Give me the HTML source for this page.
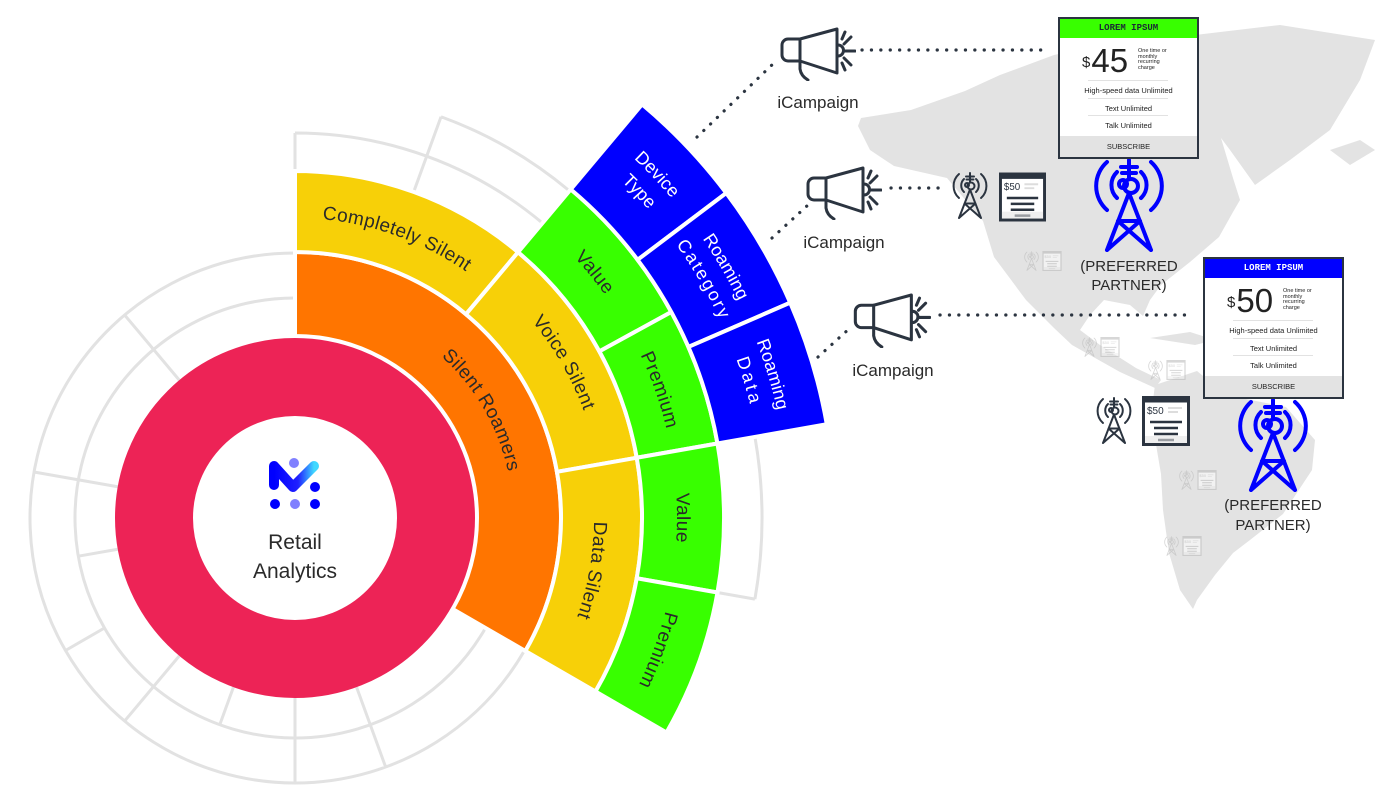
<!DOCTYPE html>
<html><head><meta charset="utf-8">
<style>
html,body{margin:0;padding:0;background:#fff;}
#wrap{position:relative;width:1400px;height:812px;overflow:hidden;font-family:"Liberation Sans",sans-serif;}
svg{position:absolute;left:0;top:0;}
.card{position:absolute;box-sizing:border-box;border:2px solid #2b3440;background:#fff;width:141px;height:142px;}
.card .hd{height:19px;line-height:19px;text-align:center;font-family:"Liberation Mono",monospace;font-weight:bold;font-size:9px;color:#1a2a33;}
.card .pr{position:absolute;left:22px;top:25px;font-size:33px;line-height:33px;color:#222;}
.card .pr sup{font-size:15px;vertical-align:top;position:relative;top:2px;margin-right:1px;}
.card .sm{position:absolute;left:78px;top:30px;font-size:5.5px;line-height:5.5px;color:#222;width:34px;}
.card .row{position:absolute;left:0;width:137px;text-align:center;font-size:7.5px;color:#222;}
.card .ln{position:absolute;left:28px;width:80px;height:1px;background:#e2e2e2;}
.card .ft{position:absolute;left:0;bottom:0;width:137px;height:21px;line-height:21px;background:#e3e3e3;text-align:center;font-size:7.5px;color:#222;}
</style></head><body><div id="wrap">
<svg width="1400" height="812" viewBox="0 0 1400 812">
<defs>
<path id="lSR"/><path id="lCS"/><path id="lVS"/><path id="lDS"/>
<path id="lV1"/><path id="lP1"/><path id="lV2"/><path id="lP2"/>
<path id="lB1o"/><path id="lB1i"/><path id="lB2o"/><path id="lB2i"/><path id="lB3o"/><path id="lB3i"/>
<symbol id="tower" viewBox="0 0 72 94">
<g fill="none" stroke="currentColor" stroke-width="4" stroke-linecap="round" stroke-linejoin="round">
<line x1="36" y1="2" x2="36" y2="20"/><line x1="28" y1="9" x2="44" y2="9"/><line x1="29" y1="15" x2="43" y2="15"/>
<circle cx="38" cy="28" r="7"/><circle cx="30" cy="26" r="4"/>
<path d="M24,14 A18,18 0 0 0 24,40"/><path d="M48,14 A18,18 0 0 1 48,40"/>
<path d="M14,4 A32,32 0 0 0 14,52"/><path d="M58,4 A32,32 0 0 1 58,52"/>
<path d="M36,35 L14,92 M36,35 L58,92 M25,63 H47 M25,63 L58,92 M47,63 L14,92"/>
</g></symbol>
<symbol id="mega" viewBox="0 0 76 54">
<g fill="none" stroke="currentColor" stroke-width="3" stroke-linecap="round" stroke-linejoin="round">
<path d="M20,12 H8 a6,6 0 0 0 -6,6 v10 a6,6 0 0 0 6,6 H20"/>
<path d="M20,12 L57,2 V46 L20,34 Z"/>
<path d="M20,34 V42 Q21,49 28,53"/>
<path d="M58,18 a5,5 0 0 1 0,11"/>
<path d="M65,24 H75 M64,17 L71,10 M64,31 L71,38 M62,12 L65,5 M62,36 L65,43"/>
</g></symbol>
<symbol id="mini" viewBox="0 0 48 50">
<rect x="1.5" y="1.5" width="45" height="47" fill="#fff" stroke="currentColor" stroke-width="3"/>
<rect x="1.5" y="1.5" width="45" height="5" fill="currentColor"/>
<text x="5" y="18" font-size="10" fill="currentColor" font-family="Liberation Sans,sans-serif">$50</text>
<path d="M26,12 H40 M26,16 H36" stroke="#ddd" stroke-width="2"/>
<path d="M8,26 H40 M12,32 H36 M12,38 H36 M16,44 H32" stroke="currentColor" stroke-width="2.5"/>
<rect x="3" y="40" width="42" height="7" fill="#e5e5e5" opacity=".6"/>
</symbol>
</defs>

<!-- map -->
<g fill="#e3e3e3">
<path d="M858,126 L861,118 911,110 965,91 1000,75 1054,55 1126,40 1197,47 1215,118 1233,178 1240,200 1233,212 1219,237 1190,262 1161,285 1150,300 1143,316 1130,305 1104,300 1090,315 1080,330 1100,345 1136,368 1161,380 1155,388 1120,372 1072,345 1054,328 1026,300 994,257 983,221 947,178 894,166 870,150 Z"/>
<path d="M1195,35 L1280,25 1375,40 1360,80 1330,130 1290,160 1255,185 1230,150 1200,110 1190,70 Z"/>
<path d="M1155,385 L1197,371 1226,395 1286,407 1315,440 1312,470 1283,514 1250,540 1233,553 1215,575 1197,600 1193,609 1180,590 1169,553 1163,510 1161,474 1151,415 Z"/>
<path d="M1150,338 L1190,332 1215,340 1195,345 Z"/>
<path d="M1330,150 L1360,140 1375,150 1350,165 Z"/>
</g>

<g fill="none" stroke="#e2e2e2" stroke-width="3" id="grays"></g>
<g id="segs" stroke="#fff" stroke-width="4"></g>
<circle cx="295" cy="518" r="141" fill="none" stroke="#ED2356" stroke-width="78"/>

<defs><linearGradient id="lg" x1="0" y1="0" x2="1" y2="0"><stop offset="0" stop-color="#0000ff"/><stop offset="0.6" stop-color="#2020ff"/><stop offset="1" stop-color="#40d8ff"/></linearGradient></defs>
<path d="M274,485 V466 L293,487 L314,466" fill="none" stroke="url(#lg)" stroke-width="10" stroke-linecap="round" stroke-linejoin="round"/>
<circle cx="294" cy="463" r="5" fill="#8080ff"/><circle cx="315" cy="487" r="5" fill="#0000ff"/>
<circle cx="275" cy="504" r="5" fill="#0000ff"/><circle cx="295" cy="504" r="5" fill="#8080ff"/><circle cx="315" cy="504" r="5" fill="#0000ff"/>
<text x="295" y="549" text-anchor="middle" font-size="21" fill="#2a2a2a">Retail</text>
<text x="295" y="578" text-anchor="middle" font-size="21" fill="#2a2a2a">Analytics</text>

<g font-size="19" fill="#2a2a2a" text-anchor="middle" letter-spacing="0.4">
<text><textPath href="#lSR" startOffset="50%">Silent Roamers</textPath></text>
<text><textPath href="#lCS" startOffset="50%">Completely Silent</textPath></text>
<text><textPath href="#lVS" startOffset="50%">Voice Silent</textPath></text>
<text><textPath href="#lDS" startOffset="50%">Data Silent</textPath></text>
<text><textPath href="#lV1" startOffset="50%">Value</textPath></text>
<text><textPath href="#lP1" startOffset="50%">Premium</textPath></text>
<text><textPath href="#lV2" startOffset="50%">Value</textPath></text>
<text><textPath href="#lP2" startOffset="50%">Premium</textPath></text>
</g>
<g font-size="18" fill="#fff" text-anchor="middle">
<text><textPath href="#lB1o" startOffset="50%">Device</textPath></text>
<text><textPath href="#lB1i" startOffset="50%">Type</textPath></text>
<text><textPath href="#lB2o" startOffset="50%">Roaming</textPath></text>
<text letter-spacing="2"><textPath href="#lB2i" startOffset="50%">Category</textPath></text>
<text><textPath href="#lB3o" startOffset="50%">Roaming</textPath></text>
<text letter-spacing="3"><textPath href="#lB3i" startOffset="50%">Data</textPath></text>
</g>

<g stroke="#2b3440" stroke-width="3.2" stroke-linecap="round" stroke-dasharray="0.1 9.3" fill="none">
<line x1="862" y1="50" x2="1050" y2="50"/>
<line x1="697" y1="137" x2="775" y2="62"/>
<line x1="891" y1="188" x2="940" y2="188"/>
<line x1="772" y1="238" x2="808" y2="205"/>
<line x1="940" y1="315" x2="1190" y2="315"/>
<line x1="818" y1="357" x2="850" y2="328"/>
</g>

<use href="#mega" x="780" y="27" width="76" height="54" color="#2b3440"/>
<use href="#mega" x="806" y="166" width="76" height="54" color="#2b3440"/>
<use href="#mega" x="853" y="293" width="78" height="55" color="#2b3440"/>
<g font-size="17" fill="#2a2a2a" text-anchor="middle">
<text x="818" y="108">iCampaign</text>
<text x="844" y="248">iCampaign</text>
<text x="893" y="376">iCampaign</text>
</g>

<use href="#tower" x="952" y="172" width="36" height="47" color="#2b3440"/>
<use href="#mini" x="999" y="172" width="47" height="50" color="#2b3440"/>
<use href="#tower" x="1096" y="397" width="36" height="47" color="#2b3440"/>
<use href="#mini" x="1142" y="396" width="48" height="50" color="#2b3440"/>
<g opacity="0.55">
<use href="#tower" x="1024" y="251" width="15" height="20" color="#b8b8b8"/><use href="#mini" x="1042" y="251" width="20" height="20" color="#b8b8b8"/>
<use href="#tower" x="1082" y="337" width="15" height="20" color="#b8b8b8"/><use href="#mini" x="1100" y="337" width="20" height="20" color="#b8b8b8"/>
<use href="#tower" x="1148" y="360" width="15" height="20" color="#b8b8b8"/><use href="#mini" x="1166" y="360" width="20" height="20" color="#b8b8b8"/>
<use href="#tower" x="1179" y="470" width="15" height="20" color="#b8b8b8"/><use href="#mini" x="1197" y="470" width="20" height="20" color="#b8b8b8"/>
<use href="#tower" x="1164" y="536" width="15" height="20" color="#b8b8b8"/><use href="#mini" x="1182" y="536" width="20" height="20" color="#b8b8b8"/>
</g>

<use href="#tower" x="1093" y="158" width="72" height="94" color="#0000ff"/>
<use href="#tower" x="1237" y="398" width="72" height="94" color="#0000ff"/>
<g font-size="15" fill="#2a2a2a" text-anchor="middle">
<text x="1129" y="271">(PREFERRED</text><text x="1129" y="290">PARTNER)</text>
<text x="1273" y="510">(PREFERRED</text><text x="1273" y="530">PARTNER)</text>
</g>
</svg>

<div class="card" style="left:1058px;top:17px;">
<div class="hd" style="background:#38ff00;">LOREM IPSUM</div>
<div class="pr"><sup>$</sup>45</div>
<div class="sm">One time or monthly recurring charge</div>
<div class="ln" style="top:61px"></div>
<div class="row" style="top:67px">High-speed data Unlimited</div>
<div class="ln" style="top:79px"></div>
<div class="row" style="top:85px">Text Unlimited</div>
<div class="ln" style="top:96px"></div>
<div class="row" style="top:102px">Talk Unlimited</div>
<div class="ft">SUBSCRIBE</div>
</div>
<div class="card" style="left:1203px;top:257px;">
<div class="hd" style="background:#0000ff;color:#fff;">LOREM IPSUM</div>
<div class="pr"><sup>$</sup>50</div>
<div class="sm">One time or monthly recurring charge</div>
<div class="ln" style="top:61px"></div>
<div class="row" style="top:67px">High-speed data Unlimited</div>
<div class="ln" style="top:79px"></div>
<div class="row" style="top:85px">Text Unlimited</div>
<div class="ln" style="top:96px"></div>
<div class="row" style="top:102px">Talk Unlimited</div>
<div class="ft">SUBSCRIBE</div>
</div>
</div>
<script>
(function(){
var CX=295,CY=518,NS="http://www.w3.org/2000/svg";
function p(r,a){a=a*Math.PI/180;return [(CX+r*Math.cos(a)).toFixed(2),(CY-r*Math.sin(a)).toFixed(2)];}
function sector(r1,r2,a1,a2){var la=(a1-a2)>180?1:0;var o1=p(r2,a1),o2=p(r2,a2),i2=p(r1,a2),i1=p(r1,a1);
return "M"+o1+" A"+r2+","+r2+" 0 "+la+" 1 "+o2+" L"+i2+" A"+r1+","+r1+" 0 "+la+" 0 "+i1+" Z";}
function arc(r,a1,a2){var la=(a1-a2)>180?1:0;var s=p(r,a1),e=p(r,a2);return "M"+s+" A"+r+","+r+" 0 "+la+" 1 "+e;}
var segs=document.getElementById("segs");
function add(d,fill){var e=document.createElementNS(NS,"path");e.setAttribute("d",d);e.setAttribute("fill",fill);segs.appendChild(e);}
var O="#FF7500",Y="#F7D008",G="#38FF00",B="#0000FF";
add(sector(182,266,90,-30),O);
add(sector(266,347,90,50),Y);add(sector(266,347,50,10),Y);add(sector(266,347,10,-30),Y);
add(sector(347,429,50,28.7),G);add(sector(347,429,28.7,10),G);add(sector(347,429,10,-10),G);add(sector(347,429,-10,-30),G);
add(sector(429,540,50,37),B);add(sector(429,540,37,23.5),B);add(sector(429,540,23.5,10),B);
var g=document.getElementById("grays");var d="";
d+=arc(220,330,90)+" "+arc(265,330,90)+" ";
function rad(r1,r2,a){return "M"+p(r1,a)+" L"+p(r2,a)+" ";}
[130,170,230,270,290].forEach(function(a){d+=rad(180,265,a);});
[190,250].forEach(function(a){d+=rad(180,220,a);});
[210].forEach(function(a){d+=rad(220,265,a);});
d+=arc(385,90,50)+" "+arc(427,70,50)+" "+rad(347,385,90)+rad(347,427,70);
d+=arc(467,10,-10)+" "+rad(429,467,-10);
var ge=document.createElementNS(NS,"path");ge.setAttribute("d",d);g.appendChild(ge);
function L(id,r,m,w){document.getElementById(id).setAttribute("d",arc(r,m+w,m-w));}
L("lSR",218,30,50);L("lCS",300,70,40);L("lVS",308,30,40);L("lDS",299,-10,40);
L("lV1",382,39.35,30);L("lP1",382,19.35,30);L("lV2",382,0,30);L("lP2",382,-20,30);
L("lB1o",494,43.5,20);L("lB1i",469,43.5,20);L("lB2o",494,30.25,20);L("lB2i",469,30.25,20);L("lB3o",494,16.75,20);L("lB3i",469,16.75,20);
})();
</script>
</body></html>
